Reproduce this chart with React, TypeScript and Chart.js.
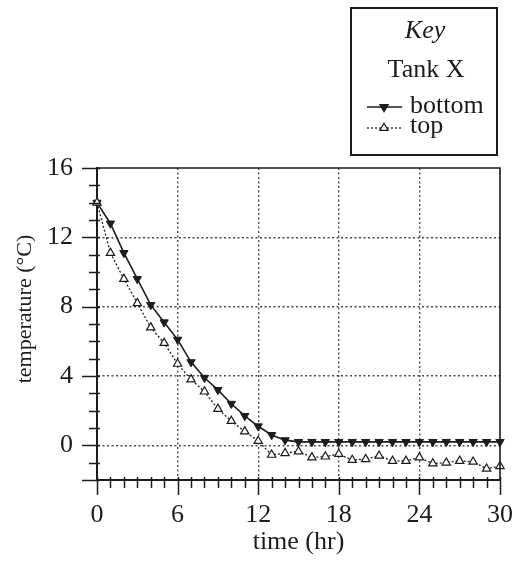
import React, { useEffect, useRef } from "react";
import { Chart, registerables } from "chart.js";

Chart.register(...registerables);

// ---------- data ----------
const hours = [0, 1, 2, 3, 4, 5, 6, 7, 8, 9, 10, 11, 12, 13, 14, 15, 16, 17, 18, 19, 20, 21, 22, 23, 24, 25, 26, 27, 28, 29, 30];
const bottomTemps = [14, 12.8, 11.1, 9.6, 8.1, 7.1, 6.1, 4.8, 3.9, 3.2, 2.4, 1.7, 1.1, 0.6, 0.3, 0.2, 0.2, 0.2, 0.2, 0.2, 0.2, 0.2, 0.2, 0.2, 0.2, 0.2, 0.2, 0.2, 0.2, 0.2, 0.2];
const topTemps = [14, 11.1, 9.6, 8.2, 6.8, 5.9, 4.7, 3.8, 3.1, 2.1, 1.4, 0.8, 0.25, -0.55, -0.45, -0.35, -0.7, -0.65, -0.5, -0.85, -0.8, -0.6, -0.9, -0.9, -0.7, -1.05, -1.0, -0.9, -0.95, -1.35, -1.2];
const seriesLabels = ["bottom", "top"];
const xTickValues = [0, 6, 12, 18, 24, 30];
const yTickValues = [0, 4, 8, 12, 16];
const xMinorStep = 1;
const yMinorStep = 1;
const keyTitle = "Key";
const keySubtitle = "Tank X";
const xTitle = "time (hr)";
const yTitle = "temperature (°C)";

const INK = "#1c1c1c";
const GRID = "#4a4a4a";
const SERIF = "'Liberation Serif', 'Times New Roman', serif";

function triPath(ctx: CanvasRenderingContext2D, x: number, y: number, r: number, rotDeg: number) {
  let rad = (rotDeg * Math.PI) / 180;
  const step = (2 * Math.PI) / 3;
  ctx.beginPath();
  ctx.moveTo(x + Math.sin(rad) * r, y - Math.cos(rad) * r);
  rad += step;
  ctx.lineTo(x + Math.sin(rad) * r, y - Math.cos(rad) * r);
  rad += step;
  ctx.lineTo(x + Math.sin(rad) * r, y - Math.cos(rad) * r);
  ctx.closePath();
}

const decorPlugin = {
  id: "decor",
  afterDraw(chart: any) {
    const ctx: CanvasRenderingContext2D = chart.ctx;
    const { left, right, top, bottom } = chart.chartArea;
    const xs = chart.scales.x;
    const ys = chart.scales.y;
    ctx.save();
    ctx.strokeStyle = INK;
    ctx.fillStyle = INK;

    // frame top + right
    ctx.lineWidth = 1.6;
    ctx.beginPath();
    ctx.moveTo(left, top);
    ctx.lineTo(right, top);
    ctx.lineTo(right, bottom);
    ctx.stroke();

    // tick marks
    ctx.lineWidth = 1.5;
    for (let v = xs.min; v <= xs.max + 1e-9; v += xMinorStep) {
      const px = Math.round(xs.getPixelForValue(v)) + 0.5;
      const major = xTickValues.includes(v);
      ctx.beginPath();
      ctx.moveTo(px, bottom - 3);
      ctx.lineTo(px, bottom + (major ? 15 : 8));
      ctx.stroke();
    }
    for (let v = ys.min; v <= ys.max + 1e-9; v += yMinorStep) {
      const py = Math.round(ys.getPixelForValue(v)) + 0.5;
      const major = yTickValues.includes(v) || v === ys.min;
      ctx.beginPath();
      ctx.moveTo(left + 3, py);
      ctx.lineTo(left - (major ? 15 : 8), py);
      ctx.stroke();
    }

    // y axis title
    ctx.save();
    ctx.translate(25, 309);
    ctx.rotate(-Math.PI / 2);
    ctx.font = `22px ${SERIF}`;
    ctx.textAlign = "center";
    ctx.textBaseline = "middle";
    ctx.fillText(yTitle, 0, 0);
    ctx.restore();

    // key box
    const bx = 351, by = 8, bw = 146, bh = 147;
    ctx.lineWidth = 2;
    ctx.strokeRect(bx, by, bw, bh);
    const cx = bx + bw / 2;
    ctx.textAlign = "center";
    ctx.textBaseline = "alphabetic";
    ctx.font = `italic 26px ${SERIF}`;
    ctx.fillText(keyTitle, cx + 1, 38);
    ctx.font = `26px ${SERIF}`;
    ctx.fillText(keySubtitle, cx + 2, 77);

    // legend rows
    ctx.textAlign = "left";
    const rows = [
      { y: 107, label: seriesLabels[0], dash: [] as number[], rot: 180, filled: true, textY: 113 },
      { y: 128, label: seriesLabels[1], dash: [2, 2], rot: 0, filled: false, textY: 133 },
    ];
    for (const r of rows) {
      ctx.lineWidth = r.filled ? 1.6 : 1.3;
      ctx.setLineDash(r.dash);
      ctx.beginPath();
      ctx.moveTo(367, r.y);
      ctx.lineTo(402, r.y);
      ctx.stroke();
      ctx.setLineDash([]);
      triPath(ctx, 384, r.y, 4.8, r.rot);
      ctx.fillStyle = r.filled ? INK : "#ffffff";
      ctx.fill();
      ctx.lineWidth = 1.2;
      ctx.stroke();
      ctx.fillStyle = INK;
      ctx.font = `26px ${SERIF}`;
      ctx.fillText(r.label, 410, r.textY);
    }
    ctx.restore();
  },
};

export default function App() {
  const canvasRef = useRef<HTMLCanvasElement | null>(null);

  useEffect(() => {
    const canvas = canvasRef.current;
    if (!canvas) return;
    const bottomPts = hours.map((h, i) => ({ x: h, y: bottomTemps[i] }));
    const topPts = hours.map((h, i) => ({ x: h, y: topTemps[i] }));

    const gridColor = (ctx: any, axisEnds: number[]) =>
      ctx.tick && axisEnds.includes(ctx.tick.value) ? "rgba(0,0,0,0)" : GRID;

    const chart = new Chart(canvas, {
      type: "line",
      data: {
        datasets: [
          {
            label: seriesLabels[1],
            data: topPts,
            borderColor: INK,
            borderWidth: 1.3,
            borderDash: [2, 2],
            pointStyle: "triangle",
            pointRotation: 0,
            pointRadius: 4.8,
            pointBackgroundColor: "#ffffff",
            pointBorderColor: INK,
            pointBorderWidth: 1.2,
            tension: 0,
            clip: false,
          } as any,
          {
            label: seriesLabels[0],
            data: bottomPts,
            borderColor: INK,
            borderWidth: 1.6,
            pointStyle: "triangle",
            pointRotation: 180,
            pointRadius: 4.8,
            pointBackgroundColor: INK,
            pointBorderColor: INK,
            pointBorderWidth: 1,
            tension: 0,
            clip: false,
          } as any,
        ],
      },
      options: {
        animation: false,
        responsive: false,
        devicePixelRatio: 1,
        events: [],
        layout: { padding: { top: 168, right: 13, left: 0, bottom: 0 } },
        plugins: { legend: { display: false }, tooltip: { enabled: false }, title: { display: false } },
        scales: {
          x: {
            type: "linear",
            min: 0,
            max: 30,
            afterBuildTicks: (s: any) => {
              s.ticks = xTickValues.map((v) => ({ value: v }));
            },
            afterFit: (s: any) => {
              s.height = 83;
              s.paddingLeft = 0;
              s.paddingRight = 0;
            },
            ticks: {
              color: INK,
              padding: 20,
              maxRotation: 0,
              autoSkip: false,
              font: { family: SERIF, size: 26 },
            },
            grid: {
              drawTicks: false,
              color: (c: any) => gridColor(c, [0, 30]),
              lineWidth: 1.4,
            },
            border: { display: true, color: INK, width: 2, dash: [2, 2.5] },
            title: {
              display: true,
              text: xTitle,
              color: INK,
              font: { family: SERIF, size: 26 },
              padding: { top: 0, bottom: 5 },
            },
          },
          y: {
            type: "linear",
            min: -2,
            max: 16,
            afterBuildTicks: (s: any) => {
              s.ticks = yTickValues.map((v) => ({ value: v }));
            },
            afterFit: (s: any) => {
              s.width = 97;
              s.paddingTop = 0;
              s.paddingBottom = 0;
            },
            ticks: {
              color: INK,
              padding: 24,
              autoSkip: false,
              font: { family: SERIF, size: 26 },
            },
            grid: {
              drawTicks: false,
              color: (c: any) => gridColor(c, [16]),
              lineWidth: 1.4,
            },
            border: { display: true, color: INK, width: 2, dash: [2, 2.5] },
            title: { display: false },
          },
        },
      },
      plugins: [decorPlugin],
    } as any);
    return () => chart.destroy();
  }, []);

  return (
    <div style={{ position: "fixed", left: 0, top: 0, width: 513, height: 563, background: "#ffffff" }}>
      <canvas ref={canvasRef} width={513} height={563} style={{ display: "block", width: 513, height: 563 }} />
    </div>
  );
}
